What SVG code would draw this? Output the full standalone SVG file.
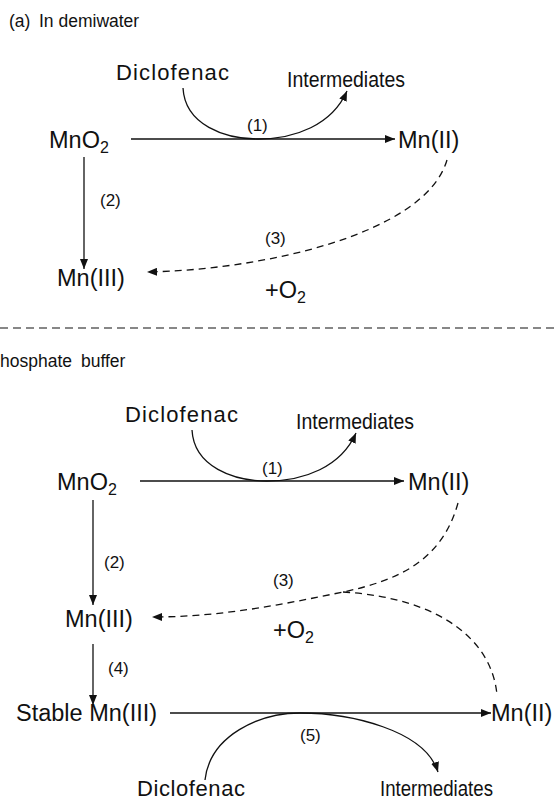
<svg xmlns="http://www.w3.org/2000/svg" width="555" height="800" viewBox="0 0 555 800">
  <style>
    text { font-family: "Liberation Sans", Arial, sans-serif; fill: #111; }
    .hdr { font-size: 17.5px; }
    .sp { font-size: 23.5px; }
    .rx { font-size: 22px; }
    .num { font-size: 17px; }
    .sub { font-size: 16px; }
    .ln { stroke: #111; stroke-width: 1.3; fill: none; }
    .dash { stroke: #111; stroke-width: 1.3; fill: none; stroke-dasharray: 7 5; }
    .sep { stroke: #111; stroke-width: 1.2; fill: none; stroke-dasharray: 8 5; }
  </style>
  <defs>
    <marker id="arr" viewBox="0 0 10 8" refX="10" refY="4" markerWidth="10" markerHeight="8" markerUnits="userSpaceOnUse" orient="auto">
      <path d="M0,0 L10,4 L0,8 Z" fill="#111"/>
    </marker>
  </defs>

  <rect width="555" height="800" fill="#fff"/>

  <!-- section headers -->
  <text class="hdr" y="27"><tspan x="9">(a)</tspan><tspan x="39">In demiwater</tspan></text>
  <line class="sep" x1="0" y1="328" x2="555" y2="328"/>
  <text class="hdr" y="367"><tspan x="0">hosphate</tspan><tspan x="81">buffer</tspan></text>

  <!-- connectors -->
  <g id="connectors">
    <!-- upper scheme -->
    <line class="ln" x1="131" y1="139" x2="395" y2="139" marker-end="url(#arr)"/>
    <path class="ln" d="M183,88 C185,125 225,139 258,139 C295,139 332,125 347,91" marker-end="url(#arr)"/>
    <line class="ln" x1="84" y1="157" x2="84" y2="269" marker-end="url(#arr)"/>
    <path class="dash" d="M447,160 C425,235 260,270 147,272" marker-end="url(#arr)"/>

    <!-- lower scheme -->
    <line class="ln" x1="140" y1="481" x2="404" y2="481" marker-end="url(#arr)"/>
    <path class="ln" d="M192,430 C194,467 234,481 267,481 C304,481 341,467 356,433" marker-end="url(#arr)"/>
    <line class="ln" x1="93" y1="500" x2="93" y2="605" marker-end="url(#arr)"/>
    <path class="dash" d="M458,503 C442,560 400,580 343,592 C280,605 220,617 152,617" marker-end="url(#arr)"/>
    <path class="dash" d="M343,592 C440,598 492,640 497,695"/>
    <line class="ln" x1="93" y1="644" x2="93" y2="705" marker-end="url(#arr)"/>
    <line class="ln" x1="170" y1="713" x2="491" y2="713" marker-end="url(#arr)"/>
    <path class="ln" d="M205,780 C210,735 260,713 300,713 C350,713 425,730 438,772" marker-end="url(#arr)"/>
  </g>

  <!-- upper scheme nodes -->
  <g id="a-mno2"><text class="sp" x="49" y="148">MnO<tspan class="sub" dy="5">2</tspan></text></g>
  <g id="a-mn2"><text class="sp" x="398" y="148">Mn(II)</text></g>
  <g id="a-mn3"><text class="sp" x="57" y="286">Mn(III)</text></g>
  <g id="a-dcf"><text class="rx" x="116" y="80" textLength="113" lengthAdjust="spacing">Diclofenac</text></g>
  <g id="a-int"><text class="rx" x="287" y="87" textLength="118" lengthAdjust="spacingAndGlyphs">Intermediates</text></g>
  <g id="a-labels">
    <text class="num" x="247" y="131">(1)</text>
    <text class="num" x="100" y="206">(2)</text>
    <text class="num" x="265" y="244">(3)</text>
    <text class="sp" x="265" y="298">+O<tspan class="sub" dy="5">2</tspan></text>
  </g>

  <!-- lower scheme nodes -->
  <g id="b-mno2"><text class="sp" x="57" y="490">MnO<tspan class="sub" dy="5">2</tspan></text></g>
  <g id="b-mn2"><text class="sp" x="408" y="490">Mn(II)</text></g>
  <g id="b-mn3"><text class="sp" x="65" y="627">Mn(III)</text></g>
  <g id="b-stable"><text class="sp" x="16" y="721">Stable Mn(III)</text></g>
  <g id="b-mn2b"><text class="sp" x="491" y="721">Mn(II)</text></g>
  <g id="b-dcf1"><text class="rx" x="125" y="422" textLength="113" lengthAdjust="spacing">Diclofenac</text></g>
  <g id="b-int1"><text class="rx" x="296" y="429" textLength="118" lengthAdjust="spacingAndGlyphs">Intermediates</text></g>
  <g id="b-dcf2"><text class="rx" x="137" y="796" textLength="108" lengthAdjust="spacing">Diclofenac</text></g>
  <g id="b-int2"><text class="rx" x="380" y="796" textLength="113" lengthAdjust="spacingAndGlyphs">Intermediates</text></g>
  <g id="b-labels">
    <text class="num" x="262" y="474">(1)</text>
    <text class="num" x="104" y="568">(2)</text>
    <text class="num" x="273" y="586">(3)</text>
    <text class="sp" x="273" y="638">+O<tspan class="sub" dy="5">2</tspan></text>
    <text class="num" x="108" y="674">(4)</text>
    <text class="num" x="300" y="741">(5)</text>
  </g>
</svg>
